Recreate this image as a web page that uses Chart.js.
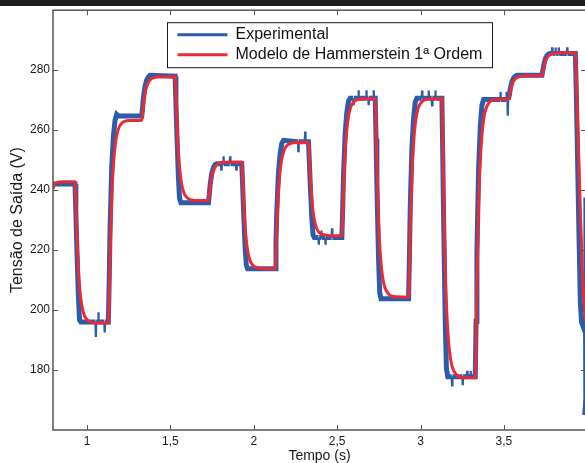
<!DOCTYPE html>
<html><head><meta charset="utf-8">
<script src="https://cdn.jsdelivr.net/npm/chart.js@4"></script>
<style>
html,body{margin:0;padding:0;background:#fff;overflow:hidden;width:585px;height:463px;}
#wrap{position:absolute;left:0;top:0;width:590px;height:463px;}
#bar{position:absolute;left:0;top:0;width:585px;height:6px;background:#1e1e1e;}
</style></head><body>
<div id="wrap"><canvas id="c" width="590" height="463"></canvas></div>
<div id="bar"></div>
<script>
// ---- data ----
const seriesNames = ['Experimental', 'Modelo de Hammerstein 1ª Ordem'];
const xTicks = [1, 1.5, 2, 2.5, 3, 3.5];
const xTickLabels = ['1', '1,5', '2', '2,5', '3', '3,5'];
const yTicks = [180, 200, 220, 240, 260, 280];

// Experimental (time s, voltage V)
const expT = [0.796,0.928,0.933,0.938,0.948,0.955,0.963,1.051,1.053,1.055,1.066,1.068,1.070,1.104,1.106,1.108,1.128,1.133,1.138,1.148,1.158,1.168,1.178,1.190,1.328,1.333,1.338,1.348,1.358,1.368,1.378,1.528,1.533,1.538,1.548,1.555,1.563,1.728,1.733,1.738,1.748,1.758,1.768,1.778,1.803,1.805,1.807,1.816,1.818,1.820,1.856,1.858,1.860,1.893,1.895,1.897,1.928,1.933,1.938,1.948,1.955,1.963,2.128,2.133,2.138,2.148,2.158,2.168,2.178,2.265,2.267,2.269,2.306,2.308,2.310,2.328,2.333,2.338,2.348,2.355,2.363,2.388,2.390,2.392,2.403,2.405,2.407,2.428,2.430,2.432,2.467,2.469,2.471,2.528,2.533,2.538,2.548,2.558,2.568,2.578,2.596,2.598,2.600,2.626,2.628,2.630,2.673,2.675,2.677,2.687,2.689,2.691,2.717,2.719,2.721,2.728,2.733,2.738,2.748,2.755,2.763,2.928,2.933,2.938,2.948,2.958,2.968,2.978,3.007,3.009,3.011,3.047,3.049,3.051,3.067,3.069,3.071,3.087,3.089,3.091,3.128,3.133,3.138,3.148,3.155,3.163,3.187,3.189,3.191,3.251,3.253,3.255,3.278,3.280,3.282,3.298,3.300,3.302,3.328,3.333,3.338,3.348,3.358,3.368,3.378,3.477,3.479,3.481,3.513,3.515,3.517,3.521,3.523,3.525,3.528,3.533,3.538,3.548,3.558,3.568,3.578,3.728,3.733,3.738,3.748,3.758,3.768,3.778,3.787,3.789,3.791,3.807,3.809,3.811,3.827,3.829,3.831,3.877,3.879,3.881,3.928,3.933,3.940,3.950,3.958,3.965,3.978,3.981,3.9825,3.984,3.992];
const expV = [242.0,242.0,232.8,222.7,205.2,196.7,196.0,196.0,191.0,196.0,196.0,199.3,196.0,196.0,192.5,196.0,196.0,209.7,226.9,247.5,257.8,263.3,265.3,264.7,264.7,267.4,270.7,274.7,276.7,277.7,278.3,278.0,269.6,260.3,244.2,237.1,235.8,235.8,238.4,241.7,245.6,247.5,248.5,248.8,248.8,246.8,248.8,248.8,251.3,248.8,248.8,251.3,248.8,248.8,246.8,248.8,248.8,241.8,234.2,221.0,215.0,213.8,213.8,222.3,233.0,245.8,252.2,255.6,256.6,256.1,253.0,256.1,256.1,259.5,256.1,256.1,249.7,242.7,230.6,225.1,224.2,224.2,221.8,224.2,224.2,226.5,224.2,224.2,221.8,224.2,224.2,227.3,224.2,224.2,233.5,245.1,259.0,266.0,269.7,270.6,270.6,268.3,270.6,270.6,273.3,270.6,270.6,273.3,270.6,270.6,268.3,270.6,270.6,273.3,270.6,270.6,257.2,242.5,217.2,205.8,203.8,203.8,217.2,233.9,253.9,263.9,269.3,270.6,270.6,273.2,270.6,270.6,273.2,270.6,270.6,268.3,270.6,270.6,273.2,270.6,270.6,252.0,231.6,196.4,180.6,177.8,177.8,174.9,177.8,177.8,174.9,177.8,177.8,179.7,177.8,177.8,179.7,177.8,177.8,196.3,219.4,247.1,261.0,268.3,270.2,270.2,272.8,270.2,270.2,272.8,270.2,270.2,264.8,270.2,270.2,271.8,273.8,276.2,277.4,278.0,278.3,278.3,279.8,281.6,283.8,284.9,285.4,285.6,285.6,287.6,285.6,285.6,287.6,285.6,285.6,287.6,285.6,285.6,287.6,285.6,285.6,275.0,255.0,225.0,203.0,196.0,194.0,198.0,237.5,165.0,170.0];

// Model (time s, voltage V)
const modT = [0.796,0.801,0.806,0.816,0.830,0.860,0.928,0.933,0.938,0.948,0.958,0.968,0.978,0.988,1.008,1.028,1.058,1.128,1.133,1.138,1.148,1.158,1.168,1.178,1.188,1.208,1.228,1.258,1.328,1.333,1.338,1.348,1.358,1.368,1.378,1.388,1.408,1.428,1.458,1.528,1.533,1.538,1.548,1.558,1.568,1.578,1.588,1.608,1.628,1.658,1.728,1.733,1.738,1.748,1.758,1.768,1.778,1.788,1.808,1.828,1.858,1.928,1.933,1.938,1.948,1.958,1.968,1.978,1.988,2.008,2.028,2.058,2.128,2.133,2.138,2.148,2.158,2.168,2.178,2.188,2.208,2.228,2.258,2.328,2.333,2.338,2.348,2.358,2.368,2.378,2.388,2.408,2.428,2.458,2.528,2.533,2.538,2.548,2.558,2.568,2.578,2.588,2.608,2.628,2.658,2.728,2.733,2.738,2.748,2.758,2.768,2.778,2.788,2.808,2.828,2.858,2.928,2.933,2.938,2.948,2.958,2.968,2.978,2.988,3.008,3.028,3.058,3.128,3.133,3.138,3.148,3.158,3.168,3.178,3.188,3.208,3.228,3.258,3.328,3.333,3.338,3.348,3.358,3.368,3.378,3.388,3.408,3.428,3.458,3.528,3.533,3.538,3.548,3.558,3.568,3.578,3.588,3.608,3.628,3.728,3.733,3.738,3.748,3.758,3.768,3.778,3.788,3.808,3.828,3.928,3.933,3.940,3.950,3.960,3.970,3.978,3.992];
const modV = [240.4,241.3,241.9,242.4,242.7,242.8,242.8,236.7,227.7,213.6,206.3,201.8,199.2,197.7,196.4,195.9,195.7,195.7,204.5,217.3,237.6,248.1,254.5,258.2,260.4,262.3,263.0,263.2,263.3,265.2,267.9,272.3,274.5,275.9,276.7,277.2,277.6,277.7,277.8,277.8,272.4,264.6,252.2,245.8,241.9,239.6,238.3,237.1,236.7,236.5,236.5,238.2,240.6,244.5,246.5,247.7,248.4,248.8,249.2,249.3,249.4,249.4,244.8,238.0,227.3,221.8,218.4,216.5,215.3,214.4,214.0,213.8,213.8,219.3,227.3,239.9,246.4,250.4,252.7,254.1,255.3,255.7,255.9,255.9,251.9,245.9,236.6,231.8,228.8,227.1,226.1,225.3,225.0,224.8,224.8,230.7,239.4,253.1,260.2,264.6,267.1,268.5,269.8,270.3,270.5,270.5,261.9,249.3,229.5,219.2,212.9,209.3,207.2,205.4,204.6,204.4,204.3,212.9,225.5,245.3,255.6,261.9,265.5,267.7,269.5,270.2,270.4,270.5,258.4,240.7,212.8,198.3,189.5,184.4,181.4,178.9,177.9,177.5,177.4,189.5,207.2,235.1,249.5,258.3,263.4,266.4,269.0,269.9,270.3,270.4,271.4,272.9,275.2,276.4,277.1,277.5,277.8,278.0,278.1,278.1,279.1,280.6,282.9,284.1,284.8,285.2,285.5,285.7,285.8,285.8,280.0,266.0,248.0,230.0,214.0,204.0,196.0];

const expData = expT.map((t, i) => ({x: t, y: expV[i]}));
const modData = modT.map((t, i) => ({x: t, y: modV[i]}));

const FONT = "'Liberation Sans', Arial, Helvetica, sans-serif";
Chart.defaults.font.family = FONT;
Chart.defaults.color = '#1a1a1a';

const framePlugin = {
  id: 'frame',
  afterLayout(chart) {
    const lg = chart.legend, a = chart.chartArea;
    if (!lg) return;
    lg.left = a.left + 120.5;
    lg.top = a.top + 12.5;
    lg.width = 330; lg.height = 60;
    lg.right = lg.left + lg.width;
    lg.bottom = lg.top + lg.height;
  },
  afterDraw(chart) {
    const {ctx, chartArea: a, scales: {x, y}} = chart;
    ctx.save();
    ctx.strokeStyle = '#555555';
    ctx.lineWidth = 1;
    const seg = (x1, y1, x2, y2) => { ctx.beginPath(); ctx.moveTo(x1, y1); ctx.lineTo(x2, y2); ctx.stroke(); };
    xTicks.forEach(v => {
      const px = Math.round(x.getPixelForValue(v)) + 0.5;
      seg(px, a.bottom, px, a.bottom - 5);
      seg(px, a.top, px, a.top + 5);
    });
    yTicks.forEach(v => {
      const py = Math.round(y.getPixelForValue(v)) + 0.5;
      seg(a.left, py, a.left + 5, py);
      seg(a.right, py, a.right - 5, py);
    });
    ctx.lineWidth = 1.5;
    ctx.strokeRect(a.left, a.top, a.right - a.left, a.bottom - a.top);
    // legend frame
    const lg = chart.legend;
    ctx.strokeStyle = '#1a1a1a';
    ctx.lineWidth = 1;
    ctx.strokeRect(lg.left - 6, lg.top + 0, 325, 45);
    ctx.restore();
  }
};

// thin lines for the short noise spikes of the measured signal
const spikeWidth = (c) => (c.p1.parsed.x - c.p0.parsed.x) <= 0.0021 ? 2.3 : undefined;

new Chart(document.getElementById('c'), {
  type: 'line',
  data: {
    datasets: [
      {label: seriesNames[0], data: expData, borderColor: '#2d5ca8', backgroundColor: '#2d5ca8',
       borderWidth: 5, pointRadius: 0, tension: 0, order: 2, borderJoinStyle: 'miter',
       segment: {borderWidth: spikeWidth}},
      {label: seriesNames[1], data: modData, borderColor: '#ec2a36', backgroundColor: '#ec2a36',
       borderWidth: 3, pointRadius: 0, cubicInterpolationMode: 'monotone', order: 1}
    ]
  },
  options: {
    responsive: false,
    animation: false,
    devicePixelRatio: 1,
    layout: {padding: {top: 9, right: 4, left: 0, bottom: 0}},
    plugins: {
      tooltip: {enabled: false},
      legend: {
        position: 'chartArea',
        align: 'start',
        labels: {
          font: {size: 16, family: FONT},
          color: '#111',
          boxWidth: 50,
          boxHeight: 3,
          padding: 4,
          generateLabels(chart) {
            return chart.data.datasets.map((ds, i) => ({
              text: ds.label, fillStyle: ds.borderColor, strokeStyle: ds.borderColor,
              lineWidth: 0, hidden: false, datasetIndex: i, fontColor: '#111'
            }));
          }
        }
      }
    },
    scales: {
      x: {
        type: 'linear', min: 0.796, max: 3.992,
        grid: {display: false, drawTicks: false},
        border: {display: false},
        afterFit(s) { s.height = 33; },
        afterBuildTicks(s) { s.ticks = xTicks.map(v => ({value: v})); },
        ticks: {
          autoSkip: false, maxRotation: 0, padding: 4, color: '#1a1a1a',
          font: {size: 12},
          callback: (v) => xTickLabels[xTicks.indexOf(v)]
        },
        title: {display: true, text: 'Tempo (s)', color: '#1a1a1a',
                font: {size: 14, lineHeight: 1}, padding: {top: 0, bottom: 0}}
      },
      y: {
        type: 'linear', min: 160, max: 300,
        grid: {display: false, drawTicks: false},
        border: {display: false},
        afterFit(s) { s.width = 53; },
        afterBuildTicks(s) { s.ticks = yTicks.map(v => ({value: v})); },
        ticks: {autoSkip: false, padding: 3, color: '#1a1a1a', font: {size: 12}},
        title: {display: true, text: 'Tensão de Saída (V)', color: '#1a1a1a',
                font: {size: 16, lineHeight: 1.2}, padding: {top: 8, bottom: 0}}
      }
    }
  },
  plugins: [framePlugin]
});
</script>
</body></html>
